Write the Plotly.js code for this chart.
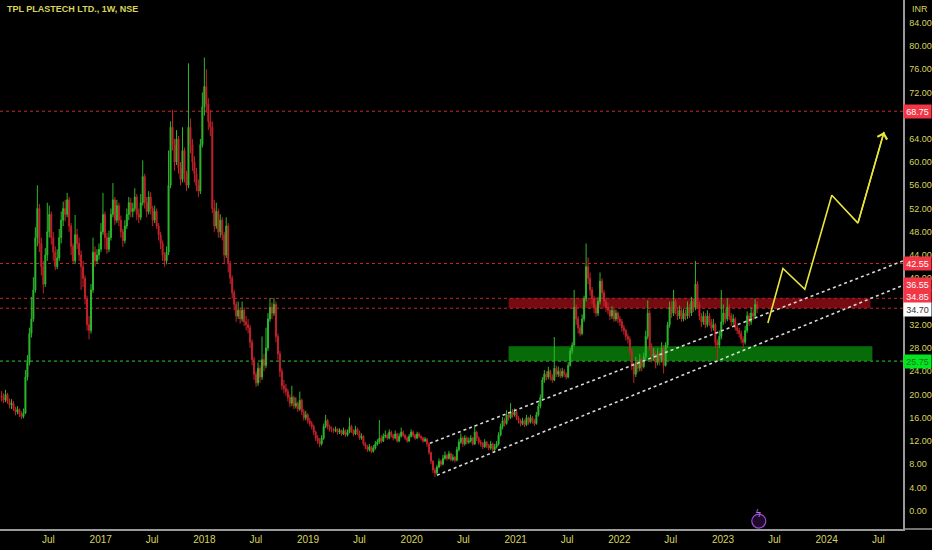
<!DOCTYPE html>
<html>
<head>
<meta charset="utf-8">
<script src="https://cdn.plot.ly/plotly-3.0.1.min.js"></script>
<style>
html,body{margin:0;padding:0;background:#000;}
#chart{width:932px;height:550px;}
</style>
</head>
<body>
<div id="chart"></div>
<script>
// ---- Weekly OHLC, first week starting 2016-01-18 ----
const firstWeek = '2016-01-18';
const openP = [
19.8,19.5,19.0,20.0,18.8,18.2,18.5,17.6,17.0,17.4,
16.6,16.2,16.8,23.0,25.5,30.5,33.0,38.0,47.0,52.0,
46.0,42.0,39.0,44.0,48.0,51.0,47.0,44.5,42.0,43.5,
47.0,50.0,52.0,51.0,53.5,49.0,45.5,43.0,47.5,46.0,
44.0,42.0,40.0,36.5,32.0,31.0,38.0,44.5,43.0,44.0,
45.0,48.0,51.0,47.0,45.0,47.0,51.0,53.5,50.0,52.5,
50.0,48.0,46.5,49.0,51.0,53.0,51.5,52.0,54.0,51.0,
50.5,53.0,57.5,53.0,51.5,54.0,52.0,50.0,51.5,49.0,
47.5,46.0,44.0,43.0,44.5,56.0,66.0,63.0,60.0,64.0,
59.0,57.0,62.0,58.0,56.0,66.0,63.0,60.0,58.0,56.0,
55.0,63.0,69.5,73.0,70.0,67.0,66.0,52.0,49.0,51.5,
48.0,50.0,47.5,44.0,49.0,42.5,40.0,37.5,35.5,33.5,
34.5,33.0,34.5,32.5,32.0,31.5,29.0,26.0,23.5,22.0,
24.5,23.0,26.0,25.0,28.0,33.0,35.0,34.0,35.5,30.0,
27.0,24.0,21.5,21.0,20.5,19.5,18.5,19.5,18.0,18.5,
17.5,19.0,17.0,16.0,16.5,15.5,15.0,14.5,13.5,12.5,
12.0,11.5,12.5,14.5,15.5,14.5,14.0,14.0,13.8,14.0,
13.5,13.8,13.2,13.8,13.0,13.5,14.5,13.8,13.2,14.0,
13.5,12.5,12.8,11.5,11.0,10.5,11.0,10.2,10.8,11.5,
11.8,12.5,12.0,12.8,13.0,12.5,13.5,13.0,12.5,13.2,
12.0,12.8,13.5,13.0,12.5,12.0,12.8,13.5,13.0,12.5,
13.2,12.8,12.5,12.0,12.3,11.5,10.0,8.5,7.0,6.5,
7.5,8.5,8.0,9.0,9.5,9.0,9.8,8.8,9.2,8.7,
10.5,11.8,12.5,11.5,12.5,11.8,12.0,12.5,11.5,13.5,
12.5,11.8,11.5,11.0,11.8,11.2,10.8,11.5,10.5,11.0,
11.5,13.0,14.5,15.5,15.0,16.5,16.0,17.0,16.5,17.0,
16.0,15.5,15.0,15.5,14.8,16.0,15.2,16.0,15.5,15.0,
16.5,18.0,19.5,22.5,23.5,23.0,24.0,23.0,22.5,24.5,
23.5,24.0,23.2,24.0,23.5,23.0,25.0,27.5,28.5,35.0,
33.0,31.5,30.5,33.0,36.5,42.0,40.0,38.0,36.5,35.0,
34.0,36.0,39.5,37.5,36.0,35.0,34.5,33.5,34.5,33.0,
34.0,33.0,32.5,31.5,31.0,30.0,29.5,27.5,25.0,23.5,
25.5,24.5,26.0,24.8,26.5,30.0,34.0,28.0,26.5,27.0,
25.5,27.0,26.0,28.0,25.0,28.5,32.0,35.0,34.0,36.0,
34.5,33.5,34.5,33.0,34.0,33.5,35.0,34.0,36.0,35.0,
39.0,35.5,33.5,32.5,33.5,32.0,33.5,32.5,31.5,32.0,
29.0,28.5,30.0,32.5,34.0,33.0,35.0,33.5,32.5,33.0,
31.5,31.0,30.5,29.5,29.0,31.0,33.5,32.5,34.0,33.5,35.5
];
const highP = [
20.6,20.2,20.8,20.3,19.3,19.2,18.9,17.9,18.0,17.6,
17.1,17.6,24.2,26.8,31.5,36.8,40.2,48.8,56.0,52.8,
47.0,43.0,45.2,53.0,52.5,51.5,48.0,45.5,45.0,48.5,
51.5,53.2,53.5,54.7,54.0,49.5,46.0,50.9,48.5,47.0,
44.8,43.0,40.5,37.0,33.5,39.0,47.0,45.5,45.0,46.0,
49.5,54.7,51.5,47.8,48.2,52.0,56.4,54.0,53.5,53.0,
50.8,48.5,50.0,52.0,54.0,53.8,53.0,55.5,54.5,52.0,
54.5,60.3,58.0,54.0,55.0,54.8,52.5,52.5,52.0,49.5,
48.0,46.5,44.5,45.5,62.0,67.0,69.0,64.0,65.5,64.5,
60.0,66.0,62.5,58.5,77.0,67.5,64.0,61.0,59.0,57.0,
64.0,72.0,78.0,76.0,71.0,69.0,67.0,53.5,53.0,52.0,
51.0,50.5,48.0,50.5,49.5,43.0,40.5,38.0,36.0,36.0,
35.0,36.0,35.0,33.5,33.0,32.0,29.5,26.5,24.0,25.5,
25.0,30.0,27.0,31.5,34.0,36.6,35.8,36.6,36.0,30.5,
27.5,24.5,22.5,21.8,21.0,20.0,21.5,19.8,19.5,18.8,
20.5,19.3,17.5,17.2,16.8,16.0,15.4,14.8,13.8,13.0,
12.5,13.0,15.0,16.5,15.8,14.8,14.5,14.3,14.5,14.2,
14.2,14.0,14.3,14.0,14.0,16.0,14.8,14.0,14.6,14.3,
13.8,13.3,13.0,11.8,11.3,11.5,11.2,11.3,12.0,12.3,
15.6,13.0,13.3,13.8,13.3,14.0,13.8,13.2,13.8,13.4,
13.3,14.3,13.8,13.2,12.8,13.2,14.0,13.8,13.2,13.6,
13.5,13.0,12.7,12.7,12.5,11.7,10.2,8.7,7.4,7.9,
9.0,8.8,9.6,10.2,9.8,10.3,10.0,9.7,9.4,11.0,
12.3,13.3,12.8,13.0,12.8,12.6,13.0,12.7,14.7,13.8,
12.8,12.2,11.8,12.3,12.0,11.5,12.0,11.7,11.5,12.0,
13.5,15.0,16.1,16.0,17.3,17.0,18.5,17.5,17.6,17.2,
16.3,15.8,16.0,15.7,16.5,16.2,16.5,16.3,15.8,17.0,
18.5,20.0,23.0,24.2,24.0,24.8,24.3,23.5,29.9,25.0,
24.8,24.5,24.6,24.4,23.8,25.6,28.0,29.0,38.0,35.5,
33.5,32.0,33.8,37.0,46.0,43.6,41.0,38.5,37.0,35.5,
36.8,41.0,40.0,38.0,36.5,35.8,35.0,35.2,34.8,34.6,
34.3,33.5,33.0,32.0,31.3,30.5,30.0,28.0,25.5,26.5,
26.0,27.0,26.4,27.2,31.0,36.2,34.5,28.8,28.0,27.5,
28.0,27.5,29.0,28.5,29.0,32.5,36.0,36.0,38.0,36.5,
35.0,35.3,35.0,34.8,34.6,36.0,35.5,36.8,36.5,43.0,
39.5,36.0,34.0,34.3,34.0,34.5,34.0,33.0,33.0,32.3,
29.5,31.0,38.0,35.5,34.8,36.5,35.5,34.0,33.8,33.3,
32.0,31.5,31.0,30.0,31.8,34.3,34.0,35.0,34.8,36.5,36.0
];
const lowP = [
18.8,18.5,18.7,18.4,17.6,17.5,17.2,16.4,16.6,16.1,
15.8,15.9,16.6,22.4,25.0,29.8,32.5,37.5,45.5,44.5,
40.5,37.4,38.5,43.0,47.0,45.8,43.0,41.4,41.6,43.0,
46.0,49.0,49.8,50.5,48.0,44.0,42.6,42.5,45.0,43.0,
38.0,38.5,35.5,31.0,29.5,30.5,37.5,42.0,42.5,43.2,
44.5,47.5,45.0,44.2,44.5,46.5,50.5,49.2,49.5,49.0,
47.0,45.4,46.0,48.5,50.0,50.5,50.5,51.5,50.0,49.5,
50.0,52.5,52.0,50.5,51.0,51.0,49.0,49.5,48.5,46.5,
45.0,43.0,42.0,42.4,44.0,55.5,62.0,58.5,59.5,58.0,
56.0,56.5,56.5,55.0,55.5,61.5,58.5,56.5,55.0,54.0,
54.5,62.5,68.0,68.5,65.5,64.5,51.2,48.0,48.5,47.0,
47.0,46.5,42.5,43.5,41.0,39.0,36.5,34.5,32.5,33.0,
32.2,32.5,31.8,31.0,30.5,28.0,25.0,22.5,21.3,21.5,
22.0,22.5,24.0,24.5,27.5,32.5,33.0,33.5,29.0,26.0,
23.0,20.8,20.2,19.8,18.8,17.8,18.0,17.5,17.6,17.0,
17.2,16.5,15.5,15.6,15.0,14.5,14.0,13.0,12.0,11.5,
10.9,11.2,12.2,14.2,14.0,13.6,13.5,13.4,13.5,13.1,
13.2,12.9,13.0,12.7,12.8,13.3,13.4,12.8,13.0,13.0,
12.2,12.2,11.2,10.6,10.1,10.2,9.9,10.0,10.5,11.2,
11.5,11.6,11.8,12.5,12.2,12.3,12.6,12.1,12.3,11.7,
11.8,12.6,12.7,12.2,11.7,11.8,12.6,12.6,12.2,12.3,
12.5,12.1,11.7,11.8,11.0,9.6,8.0,6.5,5.8,6.2,
7.3,7.6,7.8,8.8,8.6,8.8,8.5,8.5,8.3,8.5,
10.2,11.5,11.0,11.2,11.4,11.5,11.7,11.2,11.3,12.0,
11.4,11.0,10.6,10.8,10.8,10.4,10.5,10.2,10.2,10.7,
11.2,12.8,14.0,14.5,14.8,15.5,15.8,16.0,16.2,15.6,
15.0,14.5,14.7,14.4,14.6,14.8,15.0,15.0,14.6,14.8,
16.2,17.6,19.2,22.0,22.4,22.6,22.4,22.0,22.3,23.0,
23.0,22.8,22.9,23.0,22.6,22.8,24.8,27.0,28.2,32.0,
30.5,30.0,30.2,32.5,36.0,39.0,37.0,35.5,34.0,33.4,
33.5,35.5,36.5,35.2,34.2,33.8,32.8,33.0,32.5,32.6,
32.3,31.8,30.8,30.3,29.3,28.8,26.8,24.2,22.0,23.0,
23.8,24.0,24.0,24.5,26.0,29.5,27.5,25.5,25.8,24.5,
25.0,25.0,25.5,23.6,24.8,28.0,31.5,33.2,33.5,33.8,
32.8,33.0,32.5,32.6,32.8,33.0,33.2,33.5,34.2,34.5,
34.8,32.8,31.6,32.0,31.4,31.6,31.8,30.8,31.0,28.0,
26.0,28.0,29.5,32.0,32.2,32.6,32.8,31.8,32.0,31.0,
30.4,29.8,28.8,28.0,28.6,30.6,31.8,32.0,32.8,33.0,34.0
];
const closeP = [
19.5,19.0,20.0,18.8,18.2,18.5,17.6,17.0,17.4,16.6,
16.2,16.8,23.0,25.5,30.5,33.0,38.0,47.0,52.0,46.0,
42.0,39.0,44.0,48.0,51.0,47.0,44.5,42.0,43.5,47.0,
50.0,52.0,51.0,53.5,49.0,45.5,43.0,47.5,46.0,44.0,
42.0,40.0,36.5,32.0,31.0,38.0,44.5,43.0,44.0,45.0,
48.0,51.0,47.0,45.0,47.0,51.0,53.5,50.0,52.5,50.0,
48.0,46.5,49.0,51.0,53.0,51.5,52.0,54.0,51.0,50.5,
53.0,57.5,53.0,51.5,54.0,52.0,50.0,51.5,49.0,47.5,
46.0,44.0,43.0,44.5,56.0,66.0,63.0,60.0,64.0,59.0,
57.0,62.0,58.0,56.0,66.0,63.0,60.0,58.0,56.0,55.0,
63.0,69.5,73.0,70.0,67.0,66.0,52.0,49.0,51.5,48.0,
50.0,47.5,44.0,49.0,42.5,40.0,37.5,35.5,33.5,34.5,
33.0,34.5,32.5,32.0,31.5,29.0,26.0,23.5,22.0,24.5,
23.0,26.0,25.0,28.0,33.0,35.0,34.0,35.5,30.0,27.0,
24.0,21.5,21.0,20.5,19.5,18.5,19.5,18.0,18.5,17.5,
19.0,17.0,16.0,16.5,15.5,15.0,14.5,13.5,12.5,12.0,
11.5,12.5,14.5,15.5,14.5,14.0,14.0,13.8,14.0,13.5,
13.8,13.2,13.8,13.0,13.5,14.5,13.8,13.2,14.0,13.5,
12.5,12.8,11.5,11.0,10.5,11.0,10.2,10.8,11.5,11.8,
12.5,12.0,12.8,13.0,12.5,13.5,13.0,12.5,13.2,12.0,
12.8,13.5,13.0,12.5,12.0,12.8,13.5,13.0,12.5,13.2,
12.8,12.5,12.0,12.3,11.5,10.0,8.5,7.0,6.5,7.5,
8.5,8.0,9.0,9.5,9.0,9.8,8.8,9.2,8.7,10.5,
11.8,12.5,11.5,12.5,11.8,12.0,12.5,11.5,13.5,12.5,
11.8,11.5,11.0,11.8,11.2,10.8,11.5,10.5,11.0,11.5,
13.0,14.5,15.5,15.0,16.5,16.0,17.0,16.5,17.0,16.0,
15.5,15.0,15.5,14.8,16.0,15.2,16.0,15.5,15.0,16.5,
18.0,19.5,22.5,23.5,23.0,24.0,23.0,22.5,24.5,23.5,
24.0,23.2,24.0,23.5,23.0,25.0,27.5,28.5,35.0,33.0,
31.5,30.5,33.0,36.5,42.0,40.0,38.0,36.5,35.0,34.0,
36.0,39.5,37.5,36.0,35.0,34.5,33.5,34.5,33.0,34.0,
33.0,32.5,31.5,31.0,30.0,29.5,27.5,25.0,23.5,25.5,
24.5,26.0,24.8,26.5,30.0,34.0,28.0,26.5,27.0,25.5,
27.0,26.0,28.0,25.0,28.5,32.0,35.0,34.0,36.0,34.5,
33.5,34.5,33.0,34.0,33.5,35.0,34.0,36.0,35.0,39.0,
35.5,33.5,32.5,33.5,32.0,33.5,32.5,31.5,32.0,29.0,
28.5,30.0,32.5,34.0,33.0,35.0,33.5,32.5,33.0,31.5,
31.0,30.5,29.5,29.0,31.0,33.5,32.5,34.0,33.5,35.5,34.7
];

// ---- Horizontal levels ----
const resistanceLevels = [68.75, 42.55, 36.55, 34.85];
const supportLevels = [25.75];
const lastPrice = 34.70;

// ---- Zones (supply / demand rectangles) ----
const zoneStart = ['2020-12-07', '2020-12-07'];
const zoneEnd   = ['2024-06-03', '2024-06-10'];
const zoneLow   = [34.85, 25.75];
const zoneHigh  = [36.55, 28.30];

// ---- Rising channel ----
const chanUpperX = ['2020-03-05', '2024-09-26'];
const chanUpperY = [11.6, 43.0];
const chanLowerX = ['2020-03-30', '2024-09-26'];
const chanLowerY = [6.1, 38.8];

// ---- Projected path (yellow) ----
const pathX = ['2023-06-08', '2023-07-31', '2023-10-16', '2024-01-19', '2024-04-20', '2024-07-21'];
const pathY = [32.3, 41.7, 38.1, 54.3, 49.5, 65.2];

// ---- Axis ticks ----
const xTickVals = ['2016-07-01','2017-01-01','2017-07-01','2018-01-01','2018-07-01','2019-01-01','2019-07-01',
  '2020-01-01','2020-07-01','2021-01-01','2021-07-01','2022-01-01','2022-07-01','2023-01-01','2023-07-01',
  '2024-01-01','2024-07-01'];
const xTickText = ['Jul','2017','Jul','2018','Jul','2019','Jul','2020','Jul','2021','Jul','2022','Jul','2023','Jul','2024','Jul'];
const yTickVals = [0,4,8,12,16,20,24,28,32,36,40,44,48,52,56,60,64,68,72,76,80,84];
// scale labels that sit fully under a price tag are not shown
const yTickHidden = [36, 68];

// ---- Price tags on the right scale ----
const tagValues = [68.75, 42.55, 36.55, 34.85, 34.70, 25.75];
const tagShift  = [0, 0, 14, 12, 0, 0];
const tagBg     = ['#f23645','#f23645','#f23645','#f23645','#ffffff','#00e61f'];
const tagFg     = ['#ffffff','#ffffff','#ffffff','#ffffff','#333333','#2a6a2a'];

// weekly calendar
const weeks = [];
{
  const d0 = new Date(firstWeek + 'T00:00:00Z');
  for (let i = 0; i < closeP.length; i++) {
    const d = new Date(d0.getTime() + i * 7 * 86400000);
    weeks.push(d.toISOString().slice(0, 10));
  }
}

const YEL = '#d8d45e';
const FONT = '"Liberation Sans Narrow","Arial Narrow","Liberation Sans",Arial,sans-serif';

const traces = [
  {
    type: 'candlestick', x: weeks, open: openP, high: highP, low: lowP, close: closeP,
    increasing: {line: {color: '#2eb82e', width: 1}, fillcolor: '#2eb82e'},
    decreasing: {line: {color: '#c4232b', width: 1}, fillcolor: '#c4232b'},
    whiskerwidth: 0, hoverinfo: 'skip'
  },
  {type: 'scatter', mode: 'lines', x: chanUpperX, y: chanUpperY,
   line: {color: '#d8d8d8', width: 1.6, dash: 'dot'}, hoverinfo: 'skip'},
  {type: 'scatter', mode: 'lines', x: chanLowerX, y: chanLowerY,
   line: {color: '#d8d8d8', width: 1.6, dash: 'dot'}, hoverinfo: 'skip'},
  {type: 'scatter', mode: 'lines', x: pathX, y: pathY,
   line: {color: '#e8e63a', width: 1.6}, hoverinfo: 'skip'}
];

const shapes = [];
resistanceLevels.forEach(v => shapes.push({
  type: 'line', xref: 'paper', x0: 0, x1: 1, yref: 'y', y0: v, y1: v, layer: 'below',
  line: {color: '#c62828', width: 1, dash: 'dot'}
}));
supportLevels.forEach(v => shapes.push({
  type: 'line', xref: 'paper', x0: 0, x1: 1, yref: 'y', y0: v, y1: v, layer: 'below',
  line: {color: '#2ecc2e', width: 1, dash: 'dot'}
}));
const zoneFill = ['rgba(190,20,28,0.62)', 'rgba(10,150,10,0.72)'];
zoneStart.forEach((s, i) => shapes.push({
  type: 'rect', xref: 'x', yref: 'y', x0: s, x1: zoneEnd[i], y0: zoneLow[i], y1: zoneHigh[i],
  fillcolor: zoneFill[i], line: {width: 0}, layer: 'below'
}));
// time-axis line continues under the price scale
shapes.push({type: 'line', xref: 'paper', yref: 'paper', x0: 1, x1: 1.04, y0: 0, y1: 0,
  line: {color: '#9a9a9a', width: 1.5}});
// lightning marker circle
shapes.push({type: 'circle', xref: 'x', yref: 'paper', xsizemode: 'pixel', ysizemode: 'pixel',
  xanchor: '2023-05-07', yanchor: 0.015, x0: -7, x1: 7, y0: -7, y1: 7,
  line: {color: '#9c4dcc', width: 1.2}, fillcolor: 'rgba(90,30,130,0.35)'});

const annotations = [
  {xref: 'paper', yref: 'paper', x: 0.005, y: 0.997, xanchor: 'left', yanchor: 'top', showarrow: false,
   text: '<b>TPL PLASTECH LTD., 1W, NSE</b>', font: {family: FONT, size: 9, color: YEL}},
  {xref: 'paper', yref: 'paper', x: 1.008, y: 0.997, xanchor: 'left', yanchor: 'top', showarrow: false,
   text: 'INR', font: {family: FONT, size: 9, color: YEL}},
  {xref: 'x', yref: 'y', x: pathX[5], y: pathY[5], axref: 'x', ayref: 'y', ax: pathX[4], ay: pathY[4],
   showarrow: true, arrowhead: 4, arrowsize: 1.3, arrowwidth: 1.5, arrowcolor: '#e8e63a', text: ''},
  {xref: 'x', yref: 'paper', x: '2023-05-07', y: 0.015, showarrow: false, text: 'ϟ',
   font: {family: 'DejaVu Sans', size: 10, color: '#b86be0'}}
];
tagValues.forEach((v, i) => annotations.push({
  xref: 'paper', yref: 'y', x: 1, y: v, xanchor: 'left', yanchor: 'middle', yshift: tagShift[i],
  showarrow: false, text: v.toFixed(2), bgcolor: tagBg[i], borderpad: 1.5, width: 24,
  font: {family: FONT, size: 9, color: tagFg[i]}
}));

const layout = {
  width: 932, height: 550,
  margin: {l: 0, r: 29, t: 0, b: 21, pad: 0},
  paper_bgcolor: '#000000', plot_bgcolor: '#000000',
  showlegend: false, hovermode: false,
  xaxis: {
    type: 'date', range: ['2016-01-12 12:00', '2024-09-25 17:00'],
    rangeslider: {visible: false}, showgrid: false, zeroline: false,
    tickmode: 'array', tickvals: xTickVals, ticktext: xTickText, ticks: '',
    tickfont: {family: FONT, size: 10, color: YEL},
    showline: true, linecolor: '#9a9a9a', linewidth: 1.5
  },
  yaxis: {
    side: 'right', range: [-3.15, 87.9], showgrid: false, zeroline: false,
    tickmode: 'array', tickvals: yTickVals,
    ticktext: yTickVals.map(v => yTickHidden.includes(v) ? '' : v.toFixed(2)), ticks: '',
    tickfont: {family: FONT, size: 9, color: YEL},
    showline: true, linecolor: '#9a9a9a', linewidth: 1.5, ticklabelstandoff: 3
  },
  shapes: shapes,
  annotations: annotations
};

Plotly.newPlot('chart', traces, layout, {displayModeBar: false, staticPlot: true});
</script>
</body>
</html>
